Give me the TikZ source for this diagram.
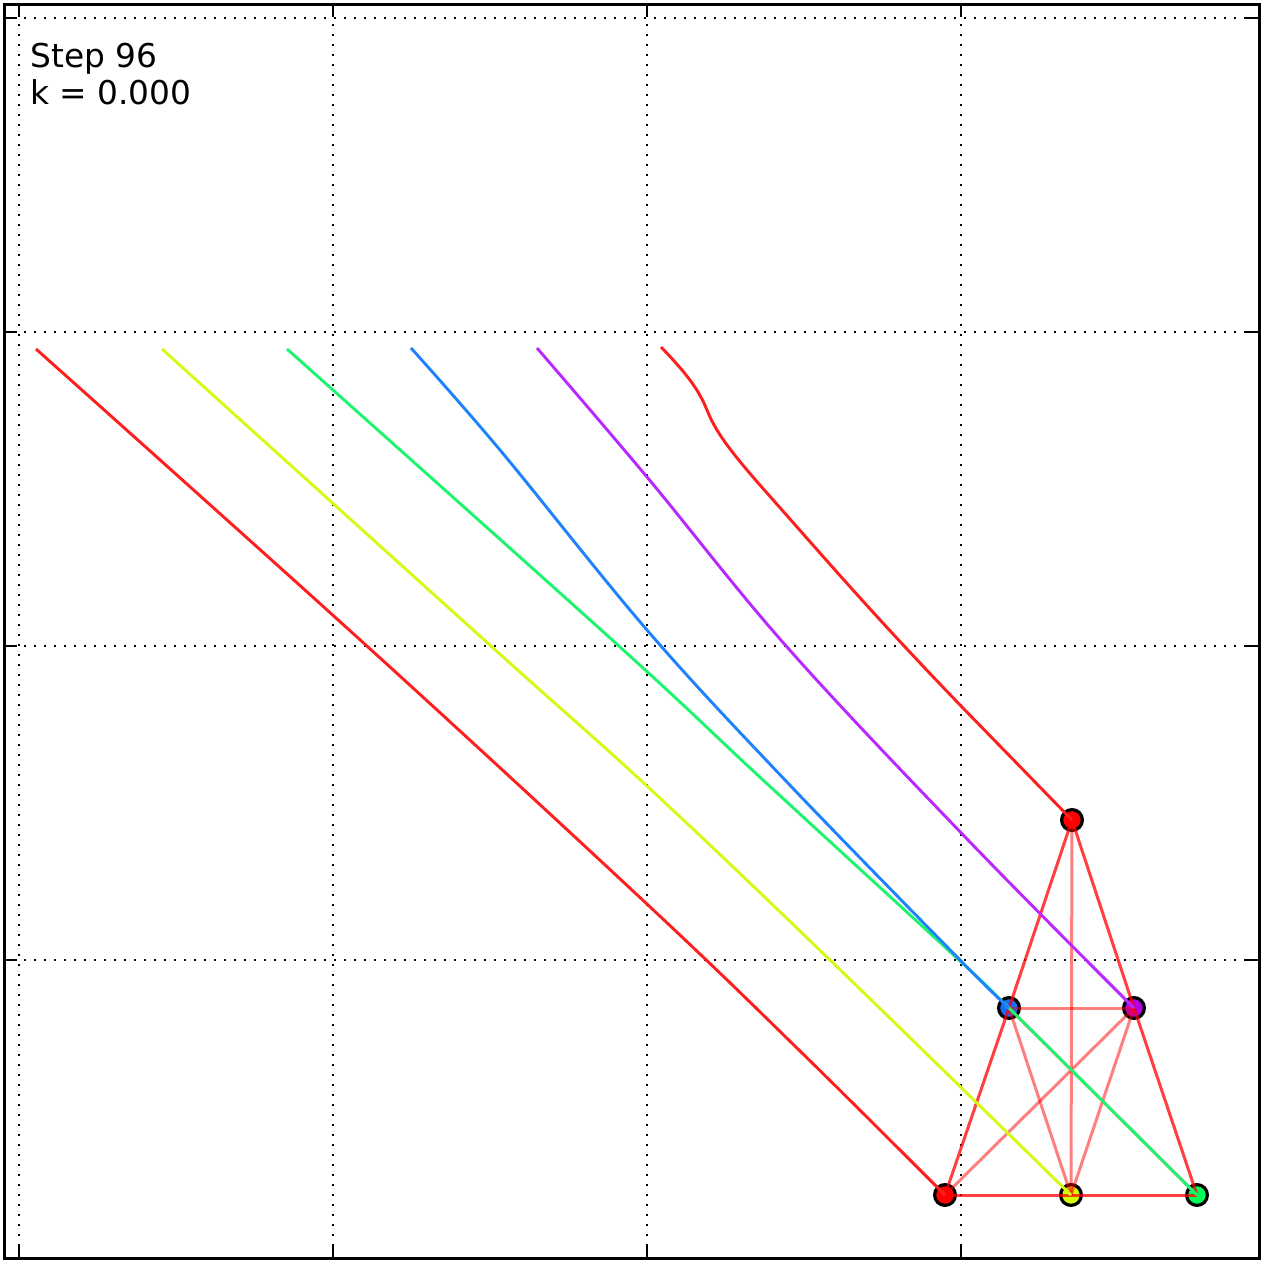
\documentclass[tikz,border=0pt]{standalone}
\usepackage{fontspec}
\setmainfont{DejaVu Sans}
\definecolor{cRed}{RGB}{255,0,0}
\definecolor{cYel}{RGB}{212,255,0}
\definecolor{cGrn}{RGB}{0,255,90}
\definecolor{cBlu}{RGB}{20,110,255}
\definecolor{cPur}{RGB}{180,0,230}
\definecolor{tRed}{RGB}{255,30,30}
\definecolor{tYel}{RGB}{215,250,20}
\definecolor{tGrn}{RGB}{30,245,110}
\definecolor{tBlu}{RGB}{30,130,255}
\definecolor{tPur}{RGB}{185,40,255}
\begin{document}
\begin{tikzpicture}[x=0.5pt,y=-0.5pt,
  gridl/.style={line width=0.8pt, black, dash pattern=on 0.9pt off 4.1pt},
  tickm/.style={line width=0.7pt, black},
  axframe/.style={line width=1.5pt, black},
  pt/.style={circle, draw=black, line width=1.6pt, minimum size=10.4pt, inner sep=0pt},
  outeredge/.style={draw=red, draw opacity=0.75, line width=1.5pt},
  inneredge/.style={draw=red, draw opacity=0.5, line width=1.5pt},
  trail/.style={line width=1.45pt, smooth, tension=0.6},
  lbl/.style={anchor=base west, inner sep=0pt, font=\fontsize{16.4pt}{18.5pt}\selectfont}
]
\useasboundingbox (0,0) rectangle (1265,1265);
\fill[white] (0,0) rectangle (1265,1265);
% grid
\foreach \x in {19,333,647,961} \draw[gridl] (\x,4) -- (\x,1258);
\foreach \y in {18,332,646,960} \draw[gridl] (4,\y) -- (1259,\y);
% ticks
\foreach \x in {19,333,647,961} {
  \draw[tickm] (\x,4) -- (\x,17);
  \draw[tickm] (\x,1258) -- (\x,1245);
}
\foreach \y in {18,332,646,960} {
  \draw[tickm] (4,\y) -- (17,\y);
  \draw[tickm] (1259,\y) -- (1246,\y);
}
\draw[axframe] (4,4) rectangle (1259,1258);
% labels
\node[lbl] (t1) at (30,67) {Step 96};
\node[lbl] (t2) at (30,104) {k = 0.000};
% nodes
\node[pt, fill=cRed] (nA) at (1072,820) {};
\node[pt, fill=cBlu] (nB) at (1009,1008) {};
\node[pt, fill=cPur] (nC) at (1134,1008) {};
\node[pt, fill=cRed] (nD) at (945,1195) {};
\node[pt, fill=cYel] (nE) at (1071,1195) {};
\node[pt, fill=cGrn] (nF) at (1197,1195) {};
% edges
\draw[inneredge] (nA.center) -- (nE.center);
\draw[inneredge] (nB.center) -- (nC.center);
\draw[inneredge] (nB.center) -- (nE.center);
\draw[inneredge] (nC.center) -- (nE.center);
\draw[inneredge] (nD.center) -- (nC.center);
\draw[inneredge] (nB.center) -- (nF.center);
\draw[outeredge] (nA.center) -- (nB.center);
\draw[outeredge] (nB.center) -- (nD.center);
\draw[outeredge] (nA.center) -- (nC.center);
\draw[outeredge] (nC.center) -- (nF.center);
\draw[outeredge] (nD.center) -- (nE.center);
\draw[outeredge] (nE.center) -- (nF.center);
% trails
\draw[trail, tRed] plot coordinates {(36,349) (368,647) (648,905) (800,1051) (nD.center)};
\draw[trail, tYel] plot coordinates {(162,349) (492,647) (648,787) (830,960) (nE.center)};
\draw[trail, tGrn] plot coordinates {(287,349) (620,647) (763,780) (960,961) (nB.center) (nF.center)};
\draw[trail, tBlu] plot coordinates {(411,348) (500,450) (647,630) (785,780) (960,960) (nB.center)};
\draw[trail, tPur] plot coordinates {(537,348) (647,477) (787,647) (968,840) (nC.center)};
\draw[line width=1.45pt, tRed] (661,347) .. controls (685,372) and (698,388) .. (707,410)
  .. controls (715,430) and (727,448) .. (767,493)
  .. controls (835,570) and (880,622) .. (962,707) -- (nA.center);
\end{tikzpicture}
\end{document}
